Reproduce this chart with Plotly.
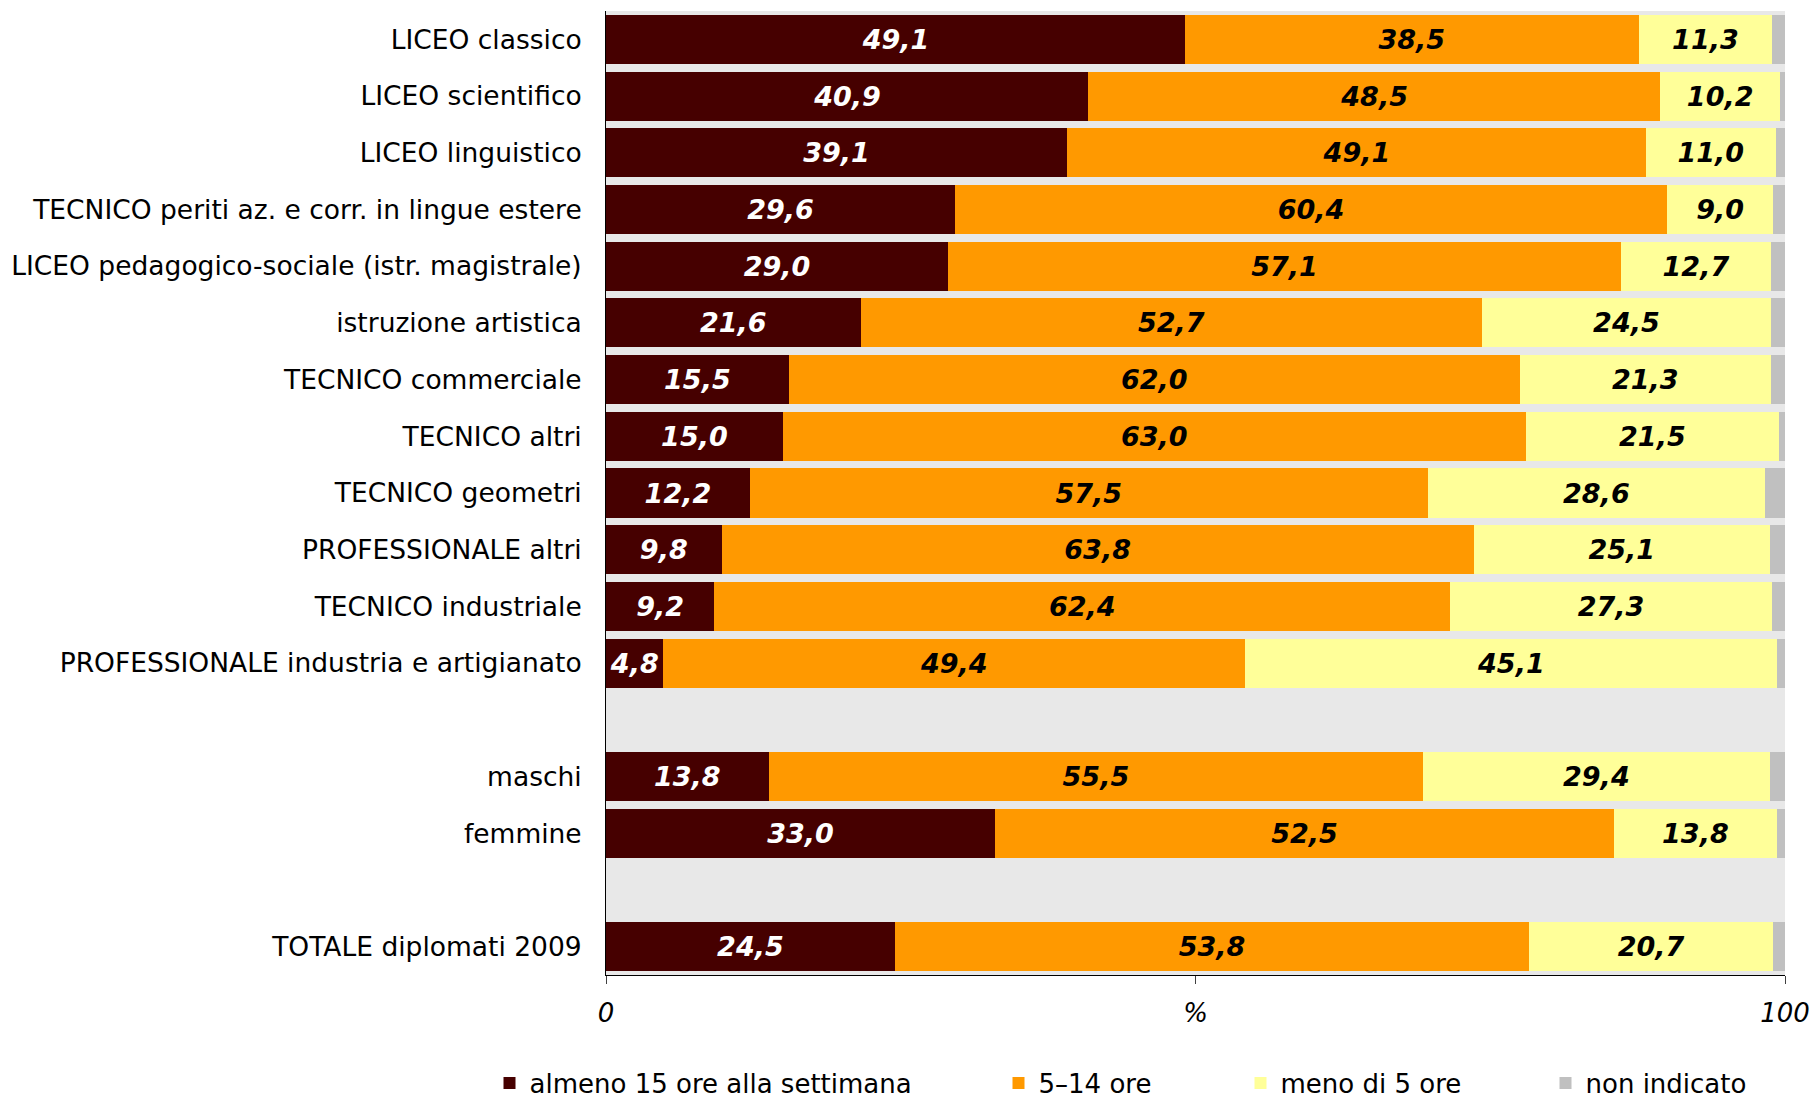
import plotly.graph_objects as go

categories = [
    "LICEO classico",
    "LICEO scientifico",
    "LICEO linguistico",
    "TECNICO periti az. e corr. in lingue estere",
    "LICEO pedagogico-sociale (istr. magistrale)",
    "istruzione artistica",
    "TECNICO commerciale",
    "TECNICO altri",
    "TECNICO geometri",
    "PROFESSIONALE altri",
    "TECNICO industriale",
    "PROFESSIONALE industria e artigianato",
    "maschi",
    "femmine",
    "TOTALE diplomati 2009",
]
almeno15 = [49.1, 40.9, 39.1, 29.6, 29.0, 21.6, 15.5, 15.0, 12.2, 9.8, 9.2, 4.8, 13.8, 33.0, 24.5]
ore5_14 = [38.5, 48.5, 49.1, 60.4, 57.1, 52.7, 62.0, 63.0, 57.5, 63.8, 62.4, 49.4, 55.5, 52.5, 53.8]
meno5 = [11.3, 10.2, 11.0, 9.0, 12.7, 24.5, 21.3, 21.5, 28.6, 25.1, 27.3, 45.1, 29.4, 13.8, 20.7]
non_indicato = [1.1, 0.4, 0.8, 1.0, 1.2, 1.2, 1.2, 0.5, 1.7, 1.3, 1.1, 0.7, 1.3, 0.7, 1.0]

series_names = ["almeno 15 ore alla settimana", "5\u201314 ore", "meno di 5 ore", "non indicato"]
series_colors = ["#460000", "#FF9900", "#FFFF99", "#C0C0C0"]
text_colors = ["white", "black", "black", "black"]

y_order = categories[:12] + [" "] + categories[12:14] + ["  "] + categories[14:]

FONT = "DejaVu Sans"

def fmt(v):
    return f"{v:.1f}".replace(".", ",")

fig = go.Figure()
legend_ids = ["legend", "legend2", "legend3", "legend4"]
for i, (name, vals) in enumerate(zip(series_names, [almeno15, ore5_14, meno5, non_indicato])):
    show_text = i < 3
    fig.add_trace(go.Bar(
        name=name,
        y=categories,
        x=vals,
        orientation="h",
        marker=dict(color=series_colors[i], line=dict(width=0)),
        text=[fmt(v) for v in vals] if show_text else None,
        textposition="inside" if show_text else "none",
        insidetextanchor="middle",
        textangle=0,
        constraintext="none",
        insidetextfont=dict(family=FONT, size=27, color=text_colors[i], weight="bold", style="italic"),
        legend=legend_ids[i],
        hoverinfo="x+y+name",
    ))

W, H = 1812, 1101
plot_left, plot_right, plot_top, plot_bottom = 606, 1785, 11, 975
pw = plot_right - plot_left
ph = plot_bottom - plot_top

legend_square_centers = [508.5, 1017.5, 1259.5, 1564.5]
legend_center_px = 1083

layout_legends = {}
for lid, cx in zip(legend_ids, legend_square_centers):
    layout_legends[lid] = dict(
        x=(cx - 19 - plot_left) / pw,
        xanchor="left",
        y=(plot_bottom - legend_center_px) / ph,
        yanchor="middle",
        orientation="h",
        font=dict(family=FONT, size=26, color="black"),
        bgcolor="rgba(0,0,0,0)",
        itemwidth=30,
        tracegroupgap=0,
    )

fig.update_layout(
    width=W,
    height=H,
    barmode="stack",
    bargap=0.134,
    plot_bgcolor="#E8E8E8",
    paper_bgcolor="white",
    margin=dict(l=plot_left, r=W - plot_right, t=plot_top, b=H - plot_bottom, pad=0, autoexpand=False),
    font=dict(family=FONT, size=26, color="black"),
    showlegend=True,
    **layout_legends,
)

fig.update_xaxes(
    range=[0, 100],
    tickvals=[0, 50, 100],
    ticktext=["0", "%", "100"],
    tickfont=dict(family=FONT, size=26, style="italic", color="black"),
    ticks="outside",
    ticklen=8,
    tickcolor="#404040",
    showline=True,
    linecolor="black",
    linewidth=1,
    showgrid=False,
    zeroline=False,
    ticklabelstandoff=7,
    automargin=False,
)
fig.update_yaxes(
    type="category",
    categoryorder="array",
    categoryarray=y_order,
    range=[len(y_order) - 0.5, -0.5],
    tickfont=dict(family=FONT, size=26.5, color="black"),
    ticks="outside",
    ticklen=18,
    tickcolor="rgba(0,0,0,0)",
    showline=True,
    linecolor="black",
    linewidth=1,
    showgrid=False,
    zeroline=False,
    automargin=False,
)

fig.write_html(
    "out.html",
    config={"displayModeBar": False},
    post_script="document.body.style.margin='0';document.body.style.overflow='hidden';",
)
